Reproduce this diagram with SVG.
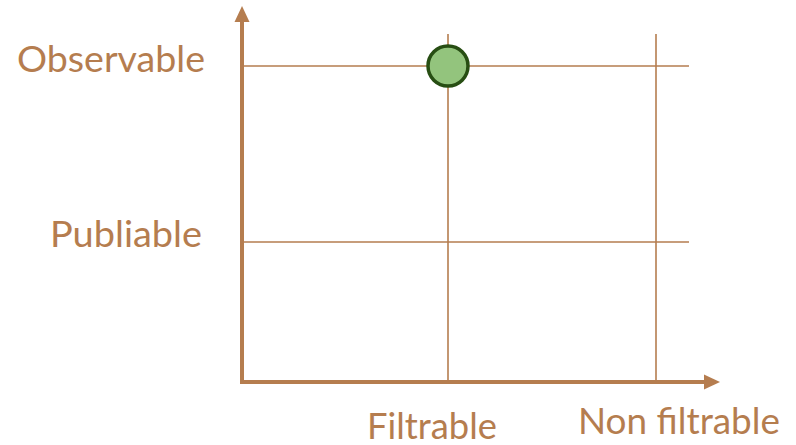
<svg xmlns="http://www.w3.org/2000/svg" width="796" height="445" viewBox="0 0 796 445">
<defs>
<style>
.grid{stroke:#B57D4F;stroke-width:1.6;fill:none}
.axis{stroke:#B57D4F;stroke-width:4;fill:none}
.lbl{font-family:Lato,"Noto Sans",sans-serif;font-size:37px;fill:#B57D4F}
</style>
</defs>
<rect width="796" height="445" fill="#ffffff"/>
<g id="grid">
<line class="grid" x1="242" y1="66" x2="689" y2="66"/>
<line class="grid" x1="242" y1="242" x2="689" y2="242"/>
<line class="grid" x1="448" y1="34" x2="448" y2="382"/>
<line class="grid" x1="656" y1="34" x2="656" y2="382"/>
</g>
<g id="connectors">
<polyline class="axis" points="242,22 242,382 706,382"/>
<path d="M242,6 L249.5,22 L234.5,22 Z" fill="#B57D4F"/>
<path d="M720,382 L704,374.5 L704,389.5 Z" fill="#B57D4F"/>
</g>
<g id="point">
<circle cx="448" cy="66" r="20" fill="#93C47D" stroke="#274E13" stroke-width="3.5"/>
</g>
<g id="labels">
<text class="lbl" x="17" y="72" textLength="188" lengthAdjust="spacingAndGlyphs">Observable</text>
<text class="lbl" x="50" y="247" textLength="152" lengthAdjust="spacingAndGlyphs">Publiable</text>
<text class="lbl" x="367" y="439" textLength="130" lengthAdjust="spacingAndGlyphs">Filtrable</text>
<text class="lbl" x="578" y="434" textLength="202" lengthAdjust="spacingAndGlyphs">Non filtrable</text>
</g>
</svg>
